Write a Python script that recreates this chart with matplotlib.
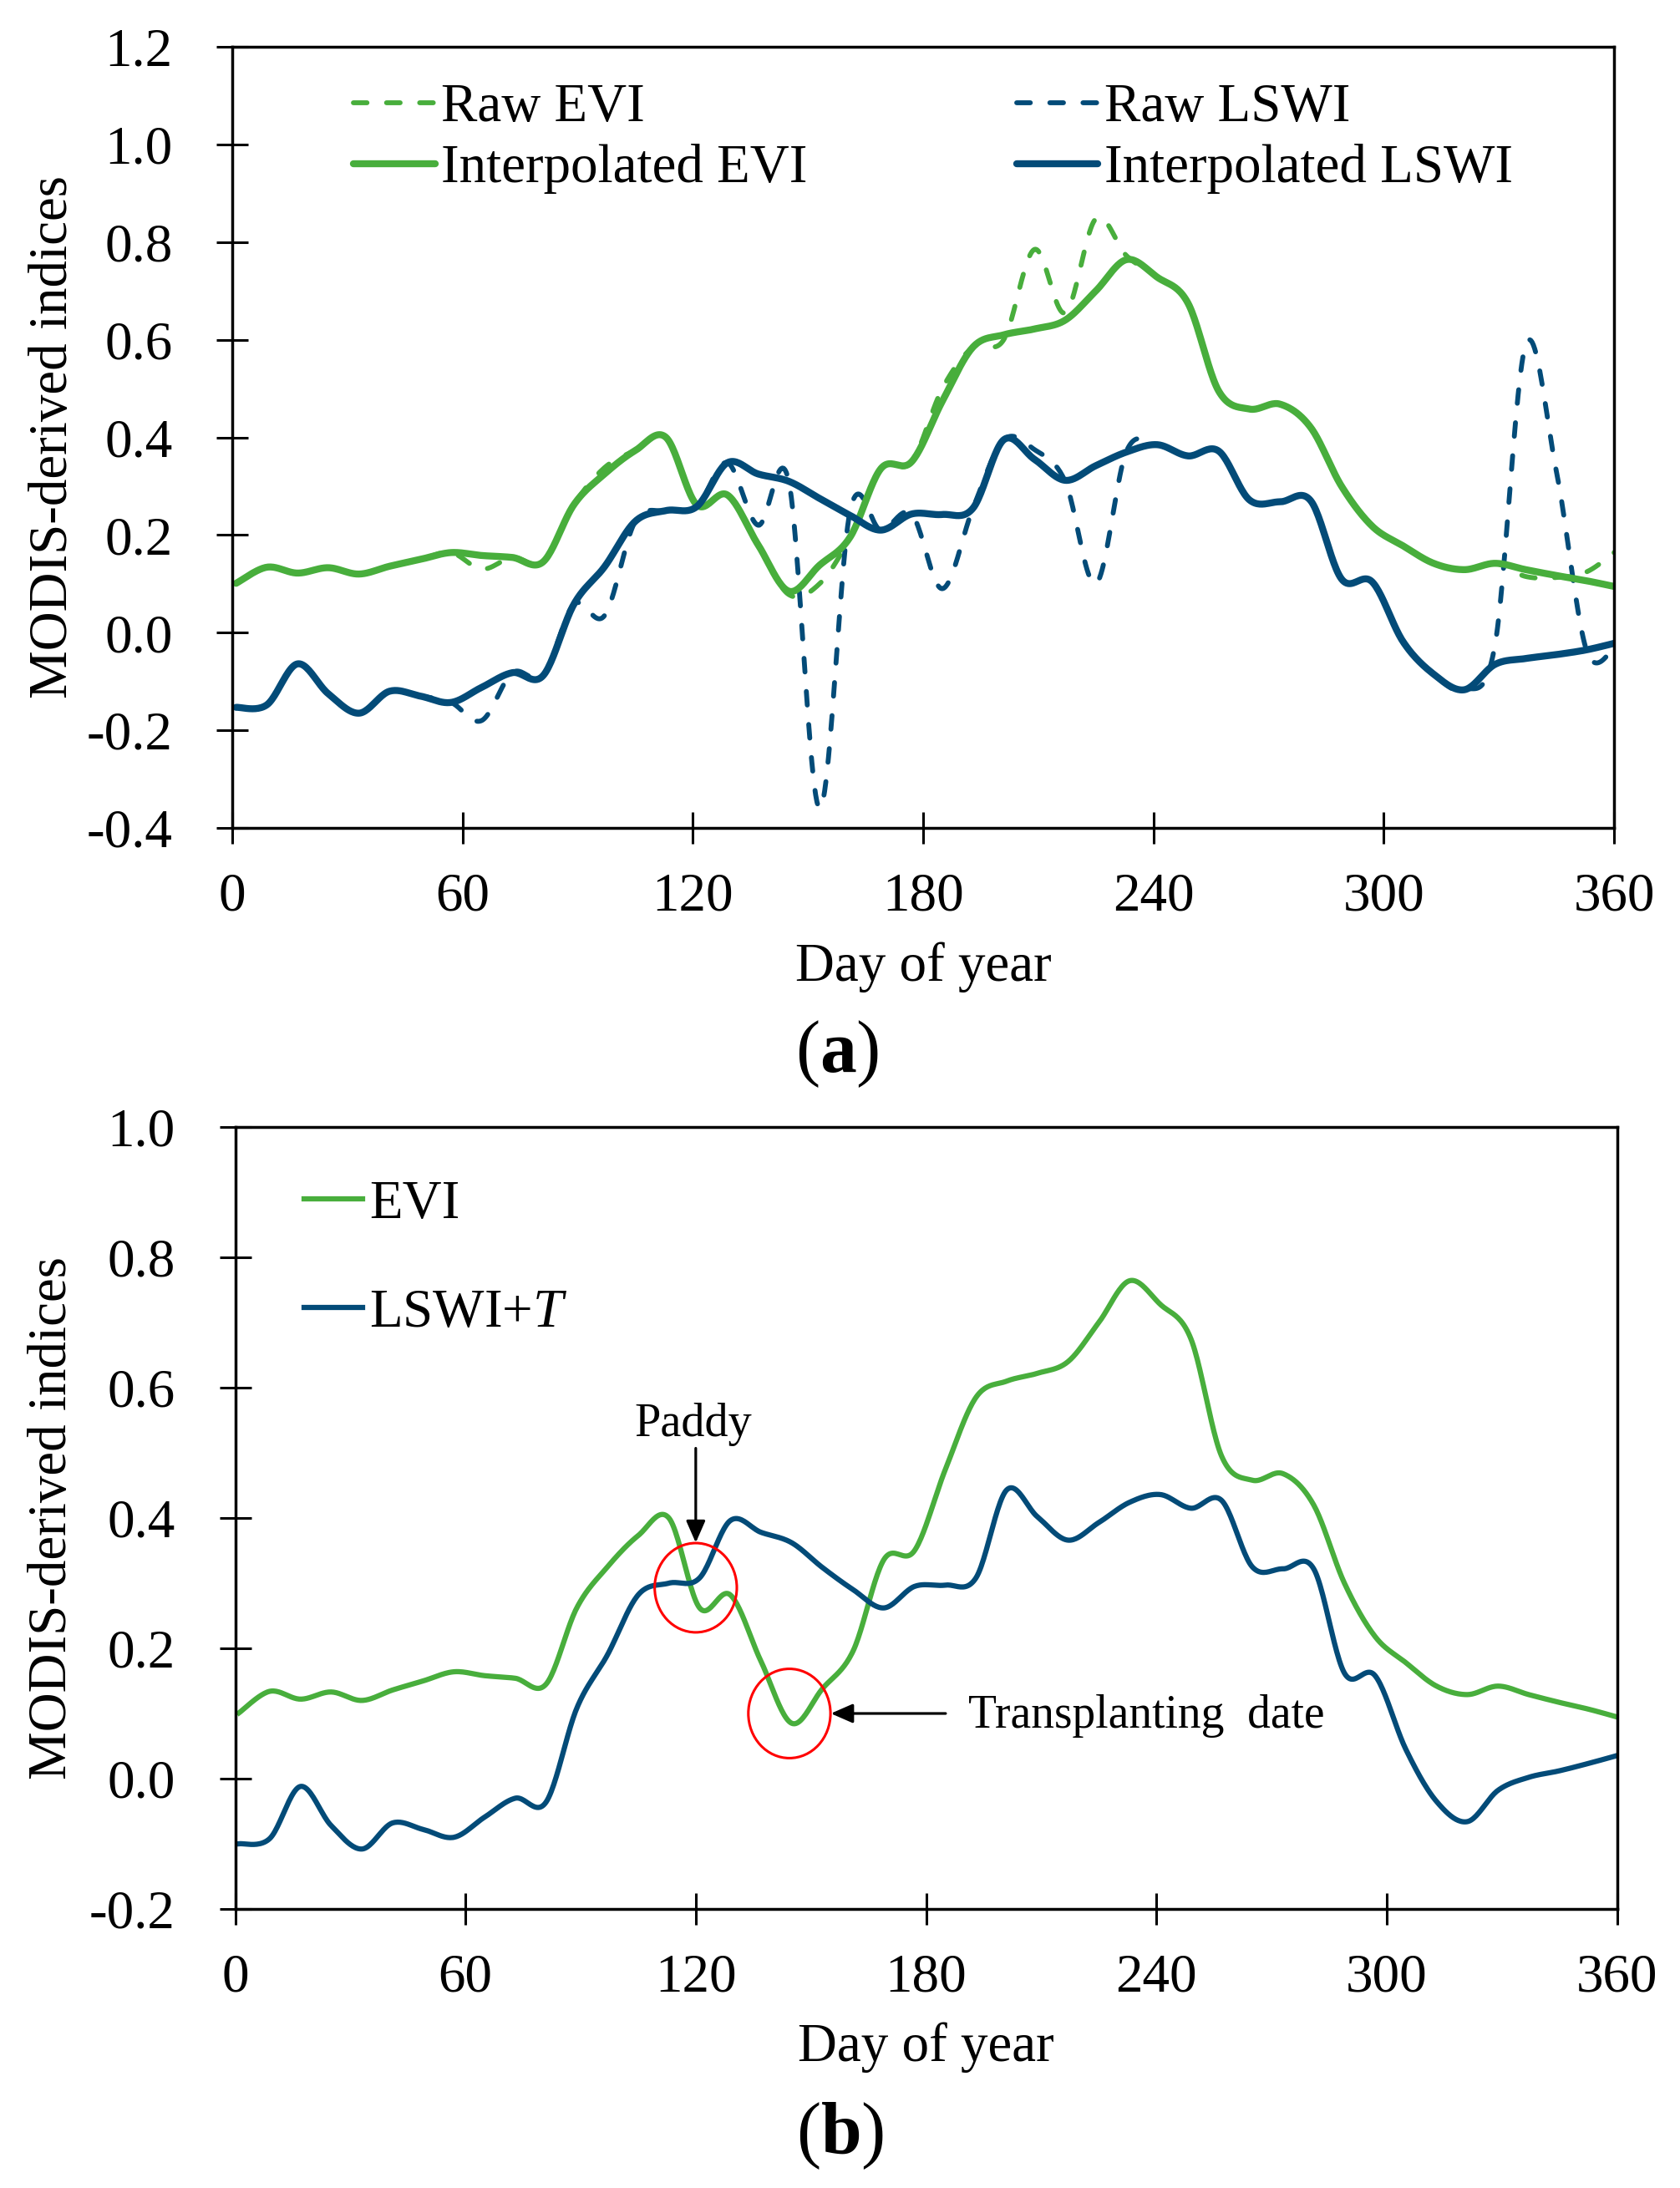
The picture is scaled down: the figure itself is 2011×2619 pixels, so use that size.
import numpy as np
import matplotlib
matplotlib.use('Agg')
import matplotlib.pyplot as plt
from matplotlib.patches import Ellipse
from matplotlib.ticker import FormatStrFormatter

plt.rcParams['font.family'] = 'Liberation Serif'
plt.rcParams['mathtext.fontset'] = 'custom'
plt.rcParams['mathtext.rm'] = 'Liberation Serif'
plt.rcParams['mathtext.it'] = 'Liberation Serif:italic'
plt.rcParams['mathtext.bf'] = 'Liberation Serif:bold'
plt.rcParams['axes.unicode_minus'] = False

# 8-day MODIS composites (day of year)
days = [1, 9, 17, 25, 33, 41, 49, 57, 65, 73, 81, 89, 97, 105, 113, 121,
        129, 137, 145, 153, 161, 169, 177, 185, 193, 201, 209, 217, 225, 233,
        241, 249, 257, 265, 273, 281, 289, 297, 305, 313, 321, 329, 337, 345,
        353, 361]

evi = [0.101, 0.134, 0.122, 0.133, 0.120, 0.136, 0.150, 0.164, 0.158, 0.154,
       0.145, 0.262, 0.325, 0.373, 0.400, 0.262, 0.282, 0.180, 0.085, 0.138,
       0.196, 0.336, 0.350, 0.474, 0.585, 0.610, 0.622, 0.640, 0.700, 0.764,
       0.728, 0.675, 0.495, 0.458, 0.468, 0.420, 0.300, 0.218, 0.178, 0.142,
       0.129, 0.142, 0.129, 0.117, 0.106, 0.093]

evi_raw = [0.101, 0.134, 0.122, 0.133, 0.120, 0.136, 0.150, 0.164, 0.130, 0.154,
           0.145, 0.262, 0.338, 0.373, 0.400, 0.262, 0.282, 0.180, 0.078, 0.100,
           0.196, 0.336, 0.350, 0.500, 0.585, 0.600, 0.785, 0.655, 0.848, 0.772,
           0.728, 0.675, 0.495, 0.458, 0.468, 0.420, 0.300, 0.218, 0.178, 0.142,
           0.129, 0.142, 0.115, 0.113, 0.125, 0.170]

lswi = [-0.153, -0.148, -0.064, -0.125, -0.165, -0.120, -0.130, -0.143, -0.112, -0.082,
        -0.088, 0.058, 0.135, 0.228, 0.250, 0.258, 0.348, 0.325, 0.310, 0.275,
        0.240, 0.210, 0.243, 0.242, 0.255, 0.395, 0.355, 0.312, 0.342, 0.370,
        0.385, 0.362, 0.372, 0.272, 0.268, 0.270, 0.110, 0.104, -0.018, -0.085,
        -0.117, -0.065, -0.053, -0.045, -0.035, -0.020]

lswi_raw = [-0.153, -0.148, -0.064, -0.125, -0.165, -0.120, -0.130, -0.143, -0.180, -0.082,
            -0.088, 0.058, 0.035, 0.228, 0.250, 0.258, 0.348, 0.220, 0.310, -0.360,
            0.250, 0.210, 0.243, 0.090, 0.255, 0.395, 0.375, 0.310, 0.100, 0.372,
            0.385, 0.362, 0.372, 0.272, 0.268, 0.270, 0.110, 0.104, -0.018, -0.085,
            -0.117, -0.025, 0.590, 0.330, -0.040, -0.020]

lswi_t = [-0.100, -0.092, -0.012, -0.072, -0.108, -0.068, -0.078, -0.090, -0.059, -0.030,
          -0.036, 0.108, 0.190, 0.282, 0.300, 0.308, 0.396, 0.378, 0.362, 0.324,
          0.290, 0.262, 0.295, 0.297, 0.308, 0.443, 0.402, 0.366, 0.393, 0.424,
          0.436, 0.415, 0.427, 0.325, 0.322, 0.322, 0.162, 0.158, 0.045, -0.035,
          -0.066, -0.018, 0.002, 0.012, 0.024, 0.037]

x_ticks = [0, 60, 120, 180, 240, 300, 360]
a_yticks = [-0.4, -0.2, 0.0, 0.2, 0.4, 0.6, 0.8, 1.0, 1.2]
b_yticks = [-0.2, 0.0, 0.2, 0.4, 0.6, 0.8, 1.0]

# annotation spots in panel (b)
paddy_day, paddy_val = 120, 0.293
transp_day, transp_val = 144.4, 0.100

green = '#48AE3C'
blue = '#034B78'
dash = (0, (2.8, 4.0))
fs = 46.8


def smooth(x, y, n=24):
    # Excel style smoothed line: Bezier segments through every point
    x = np.asarray(x, float)
    y = np.asarray(y, float)
    px = np.r_[x[0], x, x[-1]]
    py = np.r_[y[0], y, y[-1]]
    t = np.linspace(0, 1, n, endpoint=False)[:, None]
    out = []
    for p in (px, py):
        p0, p1, p2, p3 = p[:-3], p[1:-2], p[2:-1], p[3:]
        b1 = p1 + (p2 - p0) / 6
        b2 = p2 - (p3 - p1) / 6
        c = ((1 - t) ** 3 * p1 + 3 * (1 - t) ** 2 * t * b1
             + 3 * (1 - t) * t ** 2 * b2 + t ** 3 * p2)
        out.append(np.r_[c.T.ravel(), p[-2]])
    return out


fig = plt.figure(figsize=(20.11, 26.19), dpi=100)
ax1 = fig.add_axes([278 / 2011, 1 - 991 / 2619, 1654 / 2011, 935 / 2619])
ax2 = fig.add_axes([281.5 / 2011, 1 - 2285 / 2619, 1654 / 2011, 936 / 2619])

# ---- (a)
sx, sy = smooth(days, evi_raw)
h1, = ax1.plot(sx, sy, color=green, lw=4.2, ls=dash, dash_capstyle='round', label='Raw EVI')
sx, sy = smooth(days, lswi_raw)
h3, = ax1.plot(sx, sy, color=blue, lw=4.2, ls=dash, dash_capstyle='round', label='Raw LSWI')
sx, sy = smooth(days, evi)
h2, = ax1.plot(sx, sy, color=green, lw=6.0, solid_capstyle='round', label='Interpolated EVI')
sx, sy = smooth(days, lswi)
h4, = ax1.plot(sx, sy, color=blue, lw=6.0, solid_capstyle='round', label='Interpolated LSWI')

ax1.set_ylim(-0.4, 1.2)
ax1.set_yticks(a_yticks)
ax1.legend(handles=[h1, h2, h3, h4], ncol=2, loc='upper left', bbox_to_anchor=(0.0877, 0.953),
           frameon=False, fontsize=fs, handlelength=1.5, handletextpad=0.12,
           columnspacing=3.85, labelspacing=0.2, borderpad=0, borderaxespad=0)
ax1.set_xlabel('Day of year', fontsize=fs, va='baseline')
ax1.xaxis.set_label_coords(0.5, -0.1957)
ax1.set_ylabel('MODIS-derived indices', fontsize=fs)
ax1.yaxis.set_label_coords(-0.1115, 0.5)

# ---- (b)
sx, sy = smooth(days, evi)
ax2.plot(sx, sy, color=green, lw=4.5, label='EVI')
sx, sy = smooth(days, lswi_t)
ax2.plot(sx, sy, color=blue, lw=4.5, label='LSWI+$T$')

ax2.set_ylim(-0.2, 1.0)
ax2.set_yticks(b_yticks)
ax2.legend(loc='upper left', bbox_to_anchor=(0.0497, 0.932), frameon=False, fontsize=fs,
           handlelength=1.08, handletextpad=0.13, labelspacing=1.08,
           borderpad=0, borderaxespad=0)
ax2.set_xlabel('Day of year', fontsize=fs, va='baseline')
ax2.xaxis.set_label_coords(0.5, -0.1941)
ax2.set_ylabel('MODIS-derived indices', fontsize=fs)
ax2.yaxis.set_label_coords(-0.1137, 0.5)

for d, v in [(paddy_day, paddy_val), (transp_day, transp_val)]:
    ax2.add_patch(Ellipse((d, v), 21.4, 0.137, fill=False, edgecolor='red', lw=2.2, zorder=5))

arrow = dict(arrowstyle='-|>,head_length=0.8,head_width=0.35', color='black', lw=2.3,
             mutation_scale=20, shrinkA=0, shrinkB=0)
ax2.annotate('', xy=(paddy_day, paddy_val + 0.069), xytext=(paddy_day, 0.507), arrowprops=arrow)
ax2.text(119.4, 0.526, 'Paddy', fontsize=40.5, ha='center', va='baseline')
ax2.annotate('', xy=(transp_day + 10.8, transp_val), xytext=(185.1, transp_val), arrowprops=arrow)
ax2.text(191.1, 0.078, 'Transplanting  date', fontsize=40, ha='left', va='baseline')

for ax in (ax1, ax2):
    ax.set_xlim(0, 360)
    ax.set_xticks(x_ticks)
    ax.yaxis.set_major_formatter(FormatStrFormatter('%.1f'))
    ax.tick_params(direction='inout', length=27, width=2.2, labelsize=fs)
    ax.tick_params(axis='x', pad=25)
    ax.tick_params(axis='y', pad=38)
    for s in ax.spines.values():
        s.set_linewidth(2.5)

fig.text(0.4985, 1 - 1283.3 / 2619, r'($\mathbf{a}$)', fontsize=63, ha='center', va='baseline')
fig.text(0.5002, 1 - 2578 / 2619, r'($\mathbf{b}$)', fontsize=63, ha='center', va='baseline')

fig.savefig('out.png', dpi=100)
